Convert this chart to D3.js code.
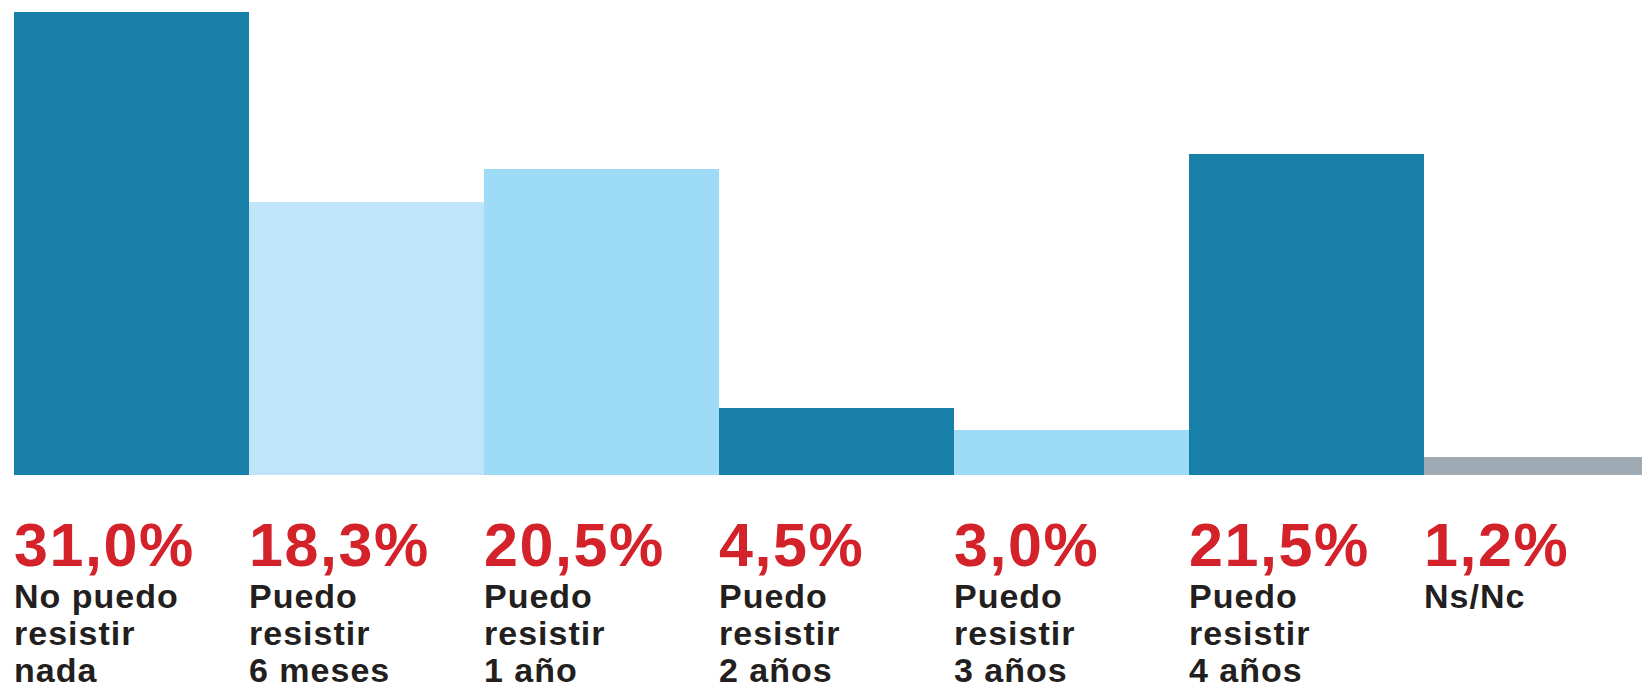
<!DOCTYPE html>
<html>
<head>
<meta charset="utf-8">
<script src="https://cdn.jsdelivr.net/npm/d3@7"></script>
<style>
  html, body { margin: 0; padding: 0; background: #ffffff; }
  svg { display: block; }
</style>
</head>
<body>
<svg id="chart" width="1642" height="686"></svg>
<script>
const categories = ["nada", "6 meses", "1 año", "2 años", "3 años", "4 años", "Ns/Nc"];
const values = [31.0, 18.3, 20.5, 4.5, 3.0, 21.5, 1.2];
const valueLabels = ["31,0%", "18,3%", "20,5%", "4,5%", "3,0%", "21,5%", "1,2%"];
const labelLines = [
  ["No puedo", "resistir", "nada"],
  ["Puedo", "resistir", "6 meses"],
  ["Puedo", "resistir", "1 año"],
  ["Puedo", "resistir", "2 años"],
  ["Puedo", "resistir", "3 años"],
  ["Puedo", "resistir", "4 años"],
  ["Ns/Nc"]
];
const barColors = ["#187fa8", "#bee5f9", "#9ddbf6", "#187fa8", "#9ddbf6", "#187fa8", "#9eabb4"];

const svg = d3.select("#chart");
const baseline = 475;

const x = d3.scaleBand().domain(categories).range([14, 14 + 7 * 235]).padding(0);
const y = d3.scaleLinear().domain([0, 31]).range([baseline, 12]);

svg.append("g").selectAll("rect")
  .data(categories)
  .join("rect")
  .attr("x", d => x(d))
  .attr("width", x.bandwidth())
  .attr("y", (d, i) => y(values[i]))
  .attr("height", (d, i) => baseline - y(values[i]))
  .attr("fill", (d, i) => barColors[i])
  .attr("shape-rendering", "crispEdges");

svg.append("g").selectAll("text")
  .data(categories)
  .join("text")
  .attr("x", d => x(d))
  .attr("y", 566)
  .attr("fill", "#d3222a")
  .attr("font-family", "'Liberation Sans', Arial, sans-serif")
  .attr("font-weight", 700)
  .attr("font-size", 61)
  .attr("letter-spacing", 1.6)
  .text((d, i) => valueLabels[i]);

const lg = svg.append("g").selectAll("text")
  .data(categories)
  .join("text")
  .attr("x", d => x(d))
  .attr("y", 608)
  .attr("fill", "#231f20")
  .attr("font-family", "'Liberation Sans', Arial, sans-serif")
  .attr("font-weight", 700)
  .attr("font-size", 34)
  .attr("letter-spacing", 1);

lg.selectAll("tspan")
  .data((d, i) => labelLines[i].map(t => ({ t, x: x(d) })))
  .join("tspan")
  .attr("x", d => d.x)
  .attr("dy", (d, j) => j === 0 ? 0 : 37)
  .text(d => d.t);
</script>
</body>
</html>
